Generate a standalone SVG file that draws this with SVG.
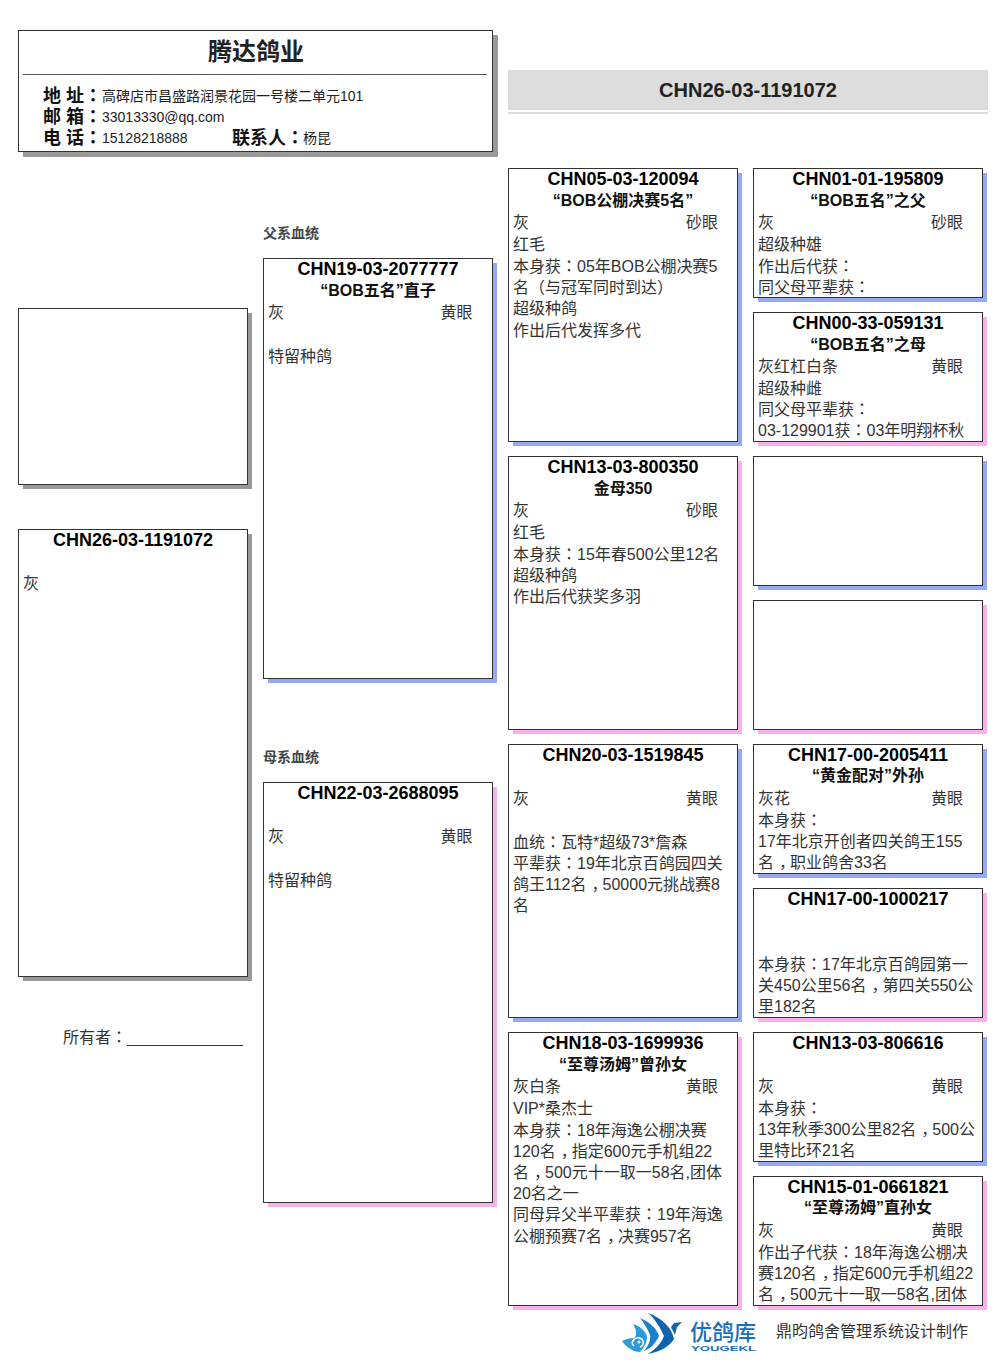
<svg xmlns="http://www.w3.org/2000/svg" width="1006" height="1366" viewBox="0 0 1006 1366">
<style>
text{font-family:"Liberation Sans","Noto Sans CJK SC",sans-serif;fill:#222}
tspan.p{font-family:"Noto Sans CJK TC",sans-serif}
tspan.k{letter-spacing:-5px}
.box{fill:#fff;stroke:#333;stroke-width:1}
.sg{fill:#999}.sb{fill:#98a8f0}.sp{fill:#f6b0ea}
.t{font-size:18px;font-weight:700;text-anchor:middle;fill:#000}
.s{font-size:16px;font-weight:700;text-anchor:middle;fill:#111}
.l{font-size:16px;fill:#333}
.r{font-size:16px;fill:#333;text-anchor:end}
.h{font-size:18px;font-weight:700;fill:#111}
.v{font-size:14px;fill:#222}
.c{font-size:14px;font-weight:700;fill:#444}
</style>
<rect width="1006" height="1366" fill="#fff"/>
<g id="header">
<rect class="sg" x="23" y="35" width="475" height="122"/>
<rect class="box" x="18.500" y="30.500" width="474" height="121"/>
<text x="256" y="60" font-size="24" font-weight="700" text-anchor="middle" fill="#000">腾达鸽业</text>
<line x1="23" y1="74.500" x2="487" y2="74.500" stroke="#555"/>
<text class="h" x="43" y="102">地 址<tspan class="p">：</tspan></text><text class="v" x="102" y="101">高碑店市昌盛路润景花园一号楼二单元101</text>
<text class="h" x="43" y="123">邮 箱<tspan class="p">：</tspan></text><text class="v" x="102" y="122">33013330@qq.com</text>
<text class="h" x="43" y="144">电 话<tspan class="p">：</tspan></text><text class="v" x="102" y="143">15128218888</text>
<text class="h" x="232" y="144">联系人<tspan class="p">：</tspan></text><text class="v" x="303" y="143">杨昆</text>
</g>
<g id="title">
<rect x="508" y="70" width="480" height="40" fill="#dcdcdc"/>
<rect x="508" y="112" width="480" height="2" fill="#dcdcdc"/>
<text x="748" y="97" font-size="20" font-weight="700" text-anchor="middle" fill="#111">CHN26-03-1191072</text>
</g>
<g id="photo"><rect class="sg" x="23" y="313" width="229" height="176"/><rect class="box" x="18.500" y="308.500" width="229" height="176"/></g>
<g id="self"><rect class="sg" x="23" y="534" width="229" height="447"/><rect class="box" x="18.500" y="529.500" width="229" height="447"/>
<text class="t" x="133" y="546">CHN26-03-1191072</text><text class="l" x="23" y="589">灰</text></g>
<g id="owner"><text class="l" x="63" y="1043">所有者<tspan class="p">：</tspan></text><line x1="127" y1="1045.500" x2="243" y2="1045.500" stroke="#333"/></g>
<text class="c" x="263" y="238">父系血统</text>
<text class="c" x="263" y="762">母系血统</text>
<g id="sire"><rect class="sb" x="268" y="263" width="229" height="420"/><rect class="box" x="263.500" y="258.500" width="229" height="420"/>
<text class="t" x="378" y="275">CHN19-03-2077777</text><text class="s" x="378" y="296">“BOB五名”直子</text>
<text class="l" x="268" y="318">灰</text><text class="r" x="472.500" y="318">黄眼</text><text class="l" x="268" y="362">特留种鸽</text></g>
<g id="dam"><rect class="sp" x="268" y="787" width="229" height="420"/><rect class="box" x="263.500" y="782.500" width="229" height="420"/>
<text class="t" x="378" y="799">CHN22-03-2688095</text>
<text class="l" x="268" y="842">灰</text><text class="r" x="472.500" y="842">黄眼</text><text class="l" x="268" y="886">特留种鸽</text></g>
<g id="g1"><rect class="sb" x="513" y="173" width="229" height="273"/><rect class="box" x="508.500" y="168.500" width="229" height="273"/>
<text class="t" x="623" y="185">CHN05-03-120094</text><text class="s" x="623" y="206">“BOB公棚决赛5名”</text>
<text class="l" x="513" y="228">灰</text><text class="r" x="718" y="228">砂眼</text>
<text class="l" x="513" y="250">红毛</text><text class="l" x="513" y="272">本身获<tspan class="p">：</tspan>05年BOB公棚决赛5</text><text class="l" x="513" y="293">名<tspan class="p">（</tspan>与冠军同时到达<tspan class="p">）</tspan></text><text class="l" x="513" y="314">超级种鸽</text><text class="l" x="513" y="336">作出后代发挥多代</text></g>
<g id="g2"><rect class="sp" x="513" y="461" width="229" height="273"/><rect class="box" x="508.500" y="456.500" width="229" height="273"/>
<text class="t" x="623" y="473">CHN13-03-800350</text><text class="s" x="623" y="494">金母350</text>
<text class="l" x="513" y="516">灰</text><text class="r" x="718" y="516">砂眼</text>
<text class="l" x="513" y="538">红毛</text><text class="l" x="513" y="560">本身获<tspan class="p">：</tspan>15年春500公里12名</text><text class="l" x="513" y="581">超级种鸽</text><text class="l" x="513" y="602">作出后代获奖多羽</text></g>
<g id="g3"><rect class="sb" x="513" y="749" width="229" height="273"/><rect class="box" x="508.500" y="744.500" width="229" height="273"/>
<text class="t" x="623" y="761">CHN20-03-1519845</text>
<text class="l" x="513" y="804">灰</text><text class="r" x="718" y="804">黄眼</text>
<text class="l" x="513" y="848">血统<tspan class="p">：</tspan>瓦特*超级73*詹森</text><text class="l" x="513" y="869">平辈获<tspan class="p">：</tspan>19年北京百鸽园四关</text><text class="l" x="513" y="890">鸽王112名<tspan class="k" dx="5">，</tspan>50000元挑战赛8</text><text class="l" x="513" y="911">名</text></g>
<g id="g4"><rect class="sp" x="513" y="1037" width="229" height="273"/><rect class="box" x="508.500" y="1032.500" width="229" height="273"/>
<text class="t" x="623" y="1049">CHN18-03-1699936</text><text class="s" x="623" y="1070">“至尊汤姆”曾孙女</text>
<text class="l" x="513" y="1092">灰白条</text><text class="r" x="718" y="1092">黄眼</text>
<text class="l" x="513" y="1114">VIP*桑杰士</text><text class="l" x="513" y="1136">本身获<tspan class="p">：</tspan>18年海逸公棚决赛</text><text class="l" x="513" y="1157">120名<tspan class="k" dx="5">，</tspan>指定600元手机组22</text><text class="l" x="513" y="1178">名<tspan class="k" dx="5">，</tspan>500元十一取一58名,团体</text><text class="l" x="513" y="1199">20名之一</text><text class="l" x="513" y="1220">同母异父半平辈获<tspan class="p">：</tspan>19年海逸</text><text class="l" x="513" y="1242">公棚预赛7名<tspan class="k" dx="5">，</tspan>决赛957名</text></g>
<g id="a1"><rect class="sb" x="758" y="173" width="229" height="129"/><rect class="box" x="753.500" y="168.500" width="229" height="129"/>
<text class="t" x="868" y="185">CHN01-01-195809</text><text class="s" x="868" y="206">“BOB五名”之父</text>
<text class="l" x="758" y="228">灰</text><text class="r" x="963" y="228">砂眼</text>
<text class="l" x="758" y="250">超级种雄</text><text class="l" x="758" y="272">作出后代获<tspan class="p">：</tspan></text><text class="l" x="758" y="293">同父母平辈获<tspan class="p">：</tspan></text></g>
<g id="a2"><rect class="sp" x="758" y="317" width="229" height="129"/><rect class="box" x="753.500" y="312.500" width="229" height="129"/>
<text class="t" x="868" y="329">CHN00-33-059131</text><text class="s" x="868" y="350">“BOB五名”之母</text>
<text class="l" x="758" y="372">灰红杠白条</text><text class="r" x="963" y="372">黄眼</text>
<text class="l" x="758" y="394">超级种雌</text><text class="l" x="758" y="415">同父母平辈获<tspan class="p">：</tspan></text><text class="l" x="758" y="436">03-129901获<tspan class="p">：</tspan>03年明翔杯秋</text></g>
<g id="a3"><rect class="sb" x="758" y="461" width="229" height="129"/><rect class="box" x="753.500" y="456.500" width="229" height="129"/></g>
<g id="a4"><rect class="sp" x="758" y="605" width="229" height="129"/><rect class="box" x="753.500" y="600.500" width="229" height="129"/></g>
<g id="a5"><rect class="sb" x="758" y="749" width="229" height="129"/><rect class="box" x="753.500" y="744.500" width="229" height="129"/>
<text class="t" x="868" y="761">CHN17-00-2005411</text><text class="s" x="868" y="781">“黄金配对”外孙</text>
<text class="l" x="758" y="804">灰花</text><text class="r" x="963" y="804">黄眼</text>
<text class="l" x="758" y="826">本身获<tspan class="p">：</tspan></text><text class="l" x="758" y="847">17年北京开创者四关鸽王155</text><text class="l" x="758" y="868">名<tspan class="k" dx="5">，</tspan>职业鸽舍33名</text></g>
<g id="a6"><rect class="sp" x="758" y="893" width="229" height="129"/><rect class="box" x="753.500" y="888.500" width="229" height="129"/>
<text class="t" x="868" y="905">CHN17-00-1000217</text>
<text class="l" x="758" y="970">本身获<tspan class="p">：</tspan>17年北京百鸽园第一</text><text class="l" x="758" y="991">关450公里56名<tspan class="k" dx="5">，</tspan>第四关550公</text><text class="l" x="758" y="1012">里182名</text></g>
<g id="a7"><rect class="sb" x="758" y="1037" width="229" height="129"/><rect class="box" x="753.500" y="1032.500" width="229" height="129"/>
<text class="t" x="868" y="1049">CHN13-03-806616</text>
<text class="l" x="758" y="1092">灰</text><text class="r" x="963" y="1092">黄眼</text>
<text class="l" x="758" y="1114">本身获<tspan class="p">：</tspan></text><text class="l" x="758" y="1135">13年秋季300公里82名<tspan class="k" dx="5">，</tspan>500公</text><text class="l" x="758" y="1156">里特比环21名</text></g>
<g id="a8"><rect class="sp" x="758" y="1181" width="229" height="129"/><rect class="box" x="753.500" y="1176.500" width="229" height="129"/>
<text class="t" x="868" y="1193">CHN15-01-0661821</text><text class="s" x="868" y="1213">“至尊汤姆”直孙女</text>
<text class="l" x="758" y="1236">灰</text><text class="r" x="963" y="1236">黄眼</text>
<text class="l" x="758" y="1258">作出子代获<tspan class="p">：</tspan>18年海逸公棚决</text><text class="l" x="758" y="1279">赛120名<tspan class="k" dx="5">，</tspan>指定600元手机组22</text><text class="l" x="758" y="1300">名<tspan class="k" dx="5">，</tspan>500元十一取一58名,团体</text></g>
<g id="logo">
<path d="M648 1313C662 1318 672 1328 674 1339C670 1346 660 1352 648 1354C656 1349 662 1342 664 1336C660 1327 655 1319 648 1313Z" fill="#0d63ad"/>
<path d="M640 1318C650 1322 657 1329 659 1336C656 1343 650 1349 644 1351C649 1345 651 1339 650 1335C647 1328 644 1323 640 1318Z" fill="#1b7fcb"/>
<path d="M633 1324C640 1326 645 1331 647 1336C647 1342 645 1347 640 1352C633 1352 626 1347 622 1341C626 1339 630 1338 634 1338C638 1335 636 1329 633 1324Z" fill="#2b9be0"/>
<path d="M634 1346C630 1343 634 1337 639 1338C644 1339 645 1345 640 1347" fill="none" stroke="#fff" stroke-width="1.500"/>
<circle cx="639" cy="1342" r="1.500" fill="#fff"/>
<path d="M671 1327L674 1323L682 1322L677 1327L675 1335Z" fill="#0d63ad"/>
<text x="690" y="1340" font-size="22" font-weight="500" style="fill:#1670c0">优鸽库</text>
<text x="691" y="1351" font-size="8" font-weight="700" style="fill:#1670c0" textLength="65" lengthAdjust="spacingAndGlyphs">YOUGEKL</text>
</g>
<text class="l" x="776" y="1337">鼎昀鸽舍管理系统设计制作</text>
</svg>
